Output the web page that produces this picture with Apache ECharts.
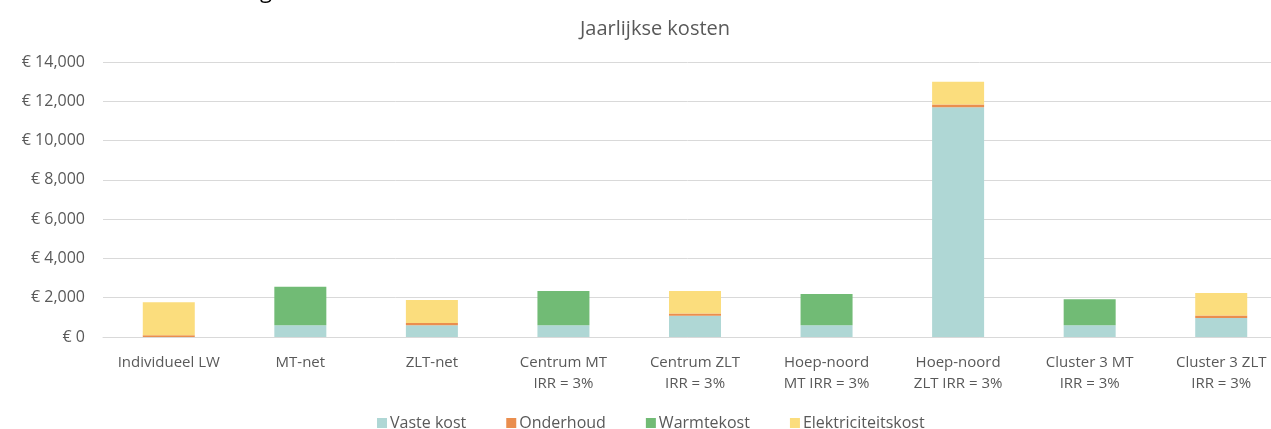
<!DOCTYPE html>
<html>
<head>
<meta charset="utf-8">
<title>Jaarlijkse kosten</title>
<script src="https://cdn.jsdelivr.net/npm/echarts@6/dist/echarts.min.js"></script>
<style>
  html, body { margin: 0; padding: 0; background: #fff; }
  #chart { width: 1271px; height: 429px; }
</style>
</head>
<body>
<div id="chart"></div>
<script>
// data
const categories = [
    'Individueel LW', 'MT-net', 'ZLT-net',
    'Centrum MT\nIRR = 3%', 'Centrum ZLT\nIRR = 3%',
    'Hoep-noord\nMT IRR = 3%', 'Hoep-noord\nZLT IRR = 3%',
    'Cluster 3 MT\nIRR = 3%', 'Cluster 3 ZLT\nIRR = 3%'
];
const vasteKost = [0, 600, 600, 600, 1080, 600, 11700, 600, 970];
const onderhoud = [90, 0, 110, 0, 120, 0, 140, 0, 130];
const warmtekost = [0, 1960, 0, 1740, 0, 1590, 0, 1320, 0];
const elektriciteitskost = [1680, 0, 1170, 0, 1140, 0, 1160, 0, 1140];
const yTicks = [0, 2000, 4000, 6000, 8000, 10000, 12000, 14000];

const FONT = 'Open Sans';
const GREY = '#595959';

const chart = echarts.init(document.getElementById('chart'));

function bar(name, data, color) {
    return {
        name: name,
        type: 'bar',
        stack: 'kosten',
        data: data,
        barWidth: 52,
        itemStyle: { color: color },
        emphasis: { disabled: true }
    };
}

let option = {
    animation: false,
    textStyle: { fontFamily: FONT },
    title: {
        text: 'Jaarlijkse kosten',
        left: 650,
        textAlign: 'center',
        top: 14,
        textStyle: { fontFamily: FONT, fontSize: 20, fontWeight: 'normal', color: GREY }
    },
    graphic: [{
        // fragment of a heading cut off at the top edge
        type: 'text',
        left: 260,
        top: -19,
        style: { text: 'g', fontFamily: FONT, fontSize: 22, fill: '#000' }
    }],
    legend: {
        bottom: -7,
        left: 372,
        itemWidth: 10,
        itemHeight: 10,
        itemGap: 40,
        icon: 'rect',
        textStyle: { fontFamily: FONT, fontSize: 16, color: GREY, padding: [0, 0, 0, -2] },
        data: ['Vaste kost', 'Onderhoud', 'Warmtekost', 'Elektriciteitskost']
    },
    // plot runs past the right edge of the picture, as in the original crop
    grid: { left: 103, width: 1184, top: 62, height: 275, outerBoundsMode: 'none' },
    xAxis: {
        type: 'category',
        data: categories,
        axisTick: { show: false },
        axisLine: { lineStyle: { color: '#d9d9d9' } },
        axisLabel: {
            fontFamily: FONT, fontSize: 15, color: GREY,
            margin: 15, lineHeight: 21, interval: 0
        }
    },
    yAxis: {
        type: 'value',
        min: yTicks[0],
        max: yTicks[yTicks.length - 1],
        interval: 2000,
        axisLine: { show: false },
        axisTick: { show: false },
        splitLine: { lineStyle: { color: '#d9d9d9' } },
        axisLabel: {
            fontFamily: FONT, fontSize: 16, color: GREY, margin: 18,
            formatter: v => '€ ' + v.toLocaleString('en-US')
        }
    },
    series: [
        bar('Vaste kost', vasteKost, '#AFD7D5'),
        bar('Onderhoud', onderhoud, '#EA8E4E'),
        bar('Warmtekost', warmtekost, '#71BB75'),
        bar('Elektriciteitskost', elektriciteitskost, '#FBDD7D')
    ]
};

chart.setOption(option);
</script>
</body>
</html>
